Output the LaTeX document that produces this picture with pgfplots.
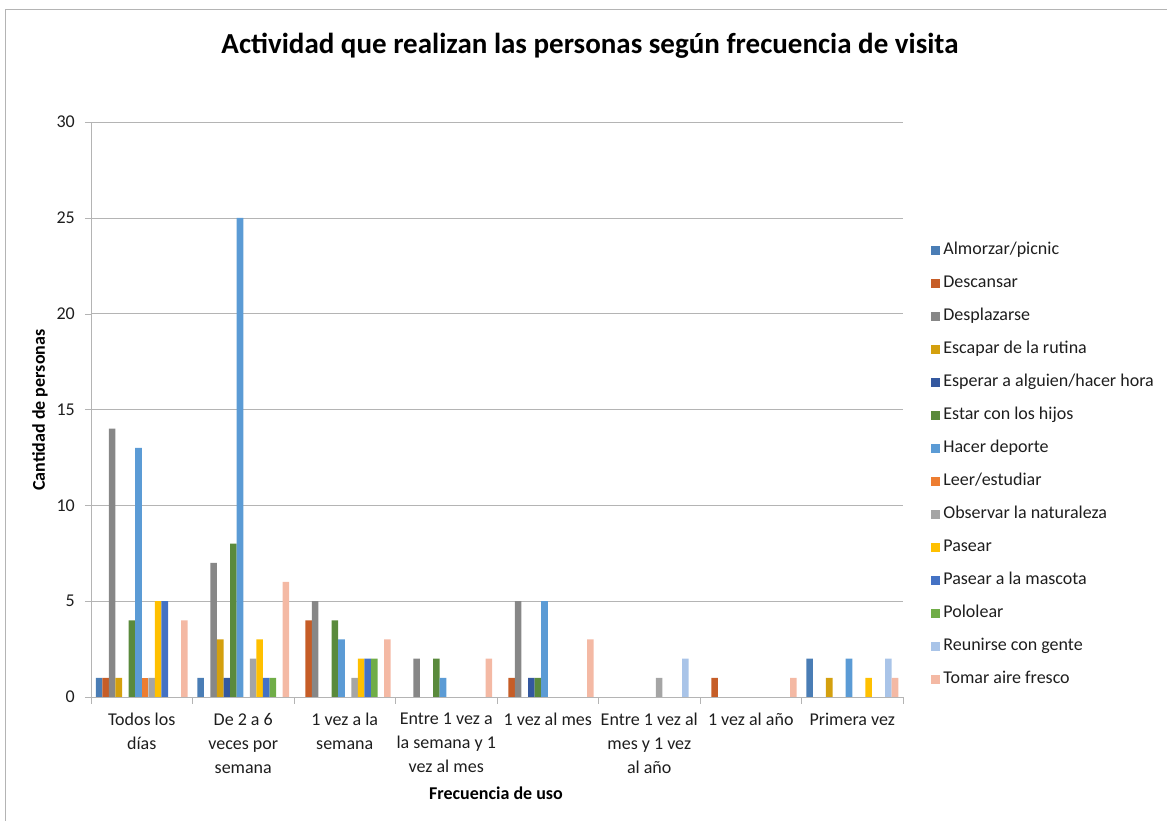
\documentclass[border=0pt]{standalone}
\usepackage{pgfplots}
\pgfplotsset{compat=1.18}
\usepackage{fontspec}
\setmainfont{Carlito}
\definecolor{cA}{HTML}{4A7DB5}
\definecolor{cB}{HTML}{C65D27}
\definecolor{cC}{HTML}{878787}
\definecolor{cD}{HTML}{D4A00E}
\definecolor{cE}{HTML}{34589F}
\definecolor{cF}{HTML}{5A8A3C}
\definecolor{cG}{HTML}{5B9BD5}
\definecolor{cH}{HTML}{ED7D31}
\definecolor{cI}{HTML}{A5A5A5}
\definecolor{cJ}{HTML}{FFC000}
\definecolor{cK}{HTML}{4472C4}
\definecolor{cL}{HTML}{70AD47}
\definecolor{cM}{HTML}{A9C4E8}
\definecolor{cN}{HTML}{F4B9A4}
\definecolor{gridc}{HTML}{B4B4B4}
\definecolor{txt}{HTML}{1E1E1E}
\pgfplotsset{sq/.style={draw=none, fill=#1, legend image code/.code={\fill[fill=#1] (0pt,-4.5pt) rectangle (9pt,4.5pt);}}}
\begin{document}
\begin{tikzpicture}
\useasboundingbox (0pt,0pt) rectangle (1167pt,821pt);
\begin{axis}[
  at={(91pt,124pt)}, anchor=south west,
  scale only axis, width=812pt, height=575pt,
  ybar=0pt, bar width=6.57pt,
  xmin=-0.5, xmax=7.5, ymin=0, ymax=30,
  enlargelimits=false,
  xtick={0,1,2,3,4,5,6,7},
  xticklabels={{Todos los\\días},{De 2 a 6\\veces por\\semana},{1 vez a la\\semana},{Entre 1 vez a\\la semana y 1\\vez al mes},{1 vez al mes},{Entre 1 vez al\\mes y 1 vez\\al año},{1 vez al año},{Primera vez}},
  minor xtick={-0.5,0.5,1.5,2.5,3.5,4.5,5.5,6.5,7.5},
  ytick={0,5,10,15,20,25,30},
  axis lines*=left,
  axis line style={draw=gridc},
  tick align=outside,
  major tick length=6pt, minor tick length=7pt,
  every major x tick/.append style={draw=none},
  every minor x tick/.append style={draw=gridc},
  every major y tick/.append style={draw=gridc},
  ymajorgrids, major grid style={draw=gridc},
  /pgf/number format/assume math mode=true,
  xticklabel style={align=center, font=\fontsize{18}{24}\selectfont, text=txt, inner sep=0pt, yshift=-10pt},
  yticklabel style={font=\fontsize{18}{22}\selectfont, text=txt, inner sep=0pt, xshift=-10pt},
  title={Actividad que realizan las personas según frecuencia de visita},
  title style={at={(axis description cs:0.6145,1.122)}, anchor=center, font=\fontsize{29}{34}\selectfont\bfseries},
  xlabel={Frecuencia de uso},
  xlabel style={at={(axis description cs:0.4988,-0.167)}, anchor=center, font=\fontsize{18}{22}\selectfont\bfseries},
  ylabel={Cantidad de personas},
  ylabel style={at={(axis description cs:-0.0628,0.499)}, anchor=center, font=\fontsize{18}{22}\selectfont\bfseries},
  legend style={at={(1.031,0.404)}, anchor=west, draw=none, fill=none,
    font=\fontsize{18}{22}\selectfont, text=txt,
    nodes={inner ysep=1.5pt, inner xsep=3pt, text height=12pt, text depth=4pt, anchor=west},
    row sep=14pt},
  legend cell align=left,
]
\addplot[sq=cA] coordinates {(0,1) (1,1) (7,2)};
\addlegendentry{Almorzar/picnic}
\addplot[sq=cB] coordinates {(0,1) (2,4) (4,1) (6,1)};
\addlegendentry{Descansar}
\addplot[sq=cC] coordinates {(0,14) (1,7) (2,5) (3,2) (4,5)};
\addlegendentry{Desplazarse}
\addplot[sq=cD] coordinates {(0,1) (1,3) (7,1)};
\addlegendentry{Escapar de la rutina}
\addplot[sq=cE] coordinates {(1,1) (4,1)};
\addlegendentry{Esperar a alguien/hacer hora}
\addplot[sq=cF] coordinates {(0,4) (1,8) (2,4) (3,2) (4,1)};
\addlegendentry{Estar con los hijos}
\addplot[sq=cG] coordinates {(0,13) (1,25) (2,3) (3,1) (4,5) (7,2)};
\addlegendentry{Hacer deporte}
\addplot[sq=cH] coordinates {(0,1)};
\addlegendentry{Leer/estudiar}
\addplot[sq=cI] coordinates {(0,1) (1,2) (2,1) (5,1)};
\addlegendentry{Observar la naturaleza}
\addplot[sq=cJ] coordinates {(0,5) (1,3) (2,2) (7,1)};
\addlegendentry{Pasear}
\addplot[sq=cK] coordinates {(0,5) (1,1) (2,2)};
\addlegendentry{Pasear a la mascota}
\addplot[sq=cL] coordinates {(1,1) (2,2)};
\addlegendentry{Pololear}
\addplot[sq=cM] coordinates {(5,2) (7,2)};
\addlegendentry{Reunirse con gente}
\addplot[sq=cN] coordinates {(0,4) (1,6) (2,3) (3,2) (4,3) (6,1) (7,1)};
\addlegendentry{Tomar aire fresco}
\end{axis}
\draw[draw=gridc, line width=1pt] (5pt,0pt) -- (5pt,811pt) -- (1167pt,811pt);
\end{tikzpicture}
\end{document}
